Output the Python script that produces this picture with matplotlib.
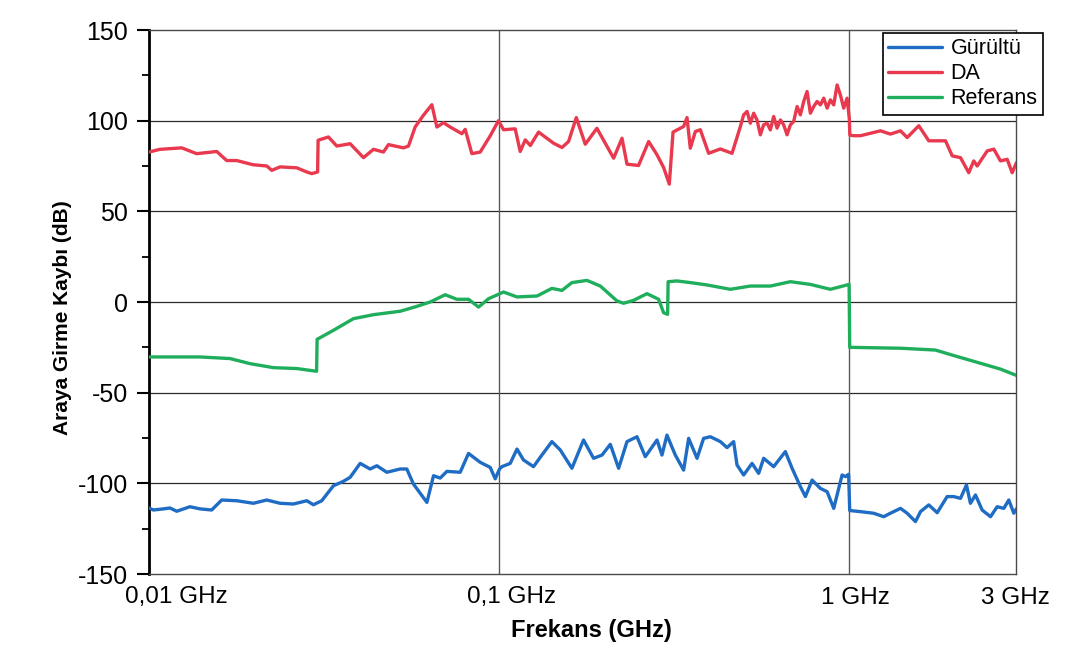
import matplotlib
matplotlib.use("Agg")
import matplotlib.pyplot as plt
import matplotlib.transforms as mtransforms
from matplotlib import font_manager
from matplotlib.ticker import FixedLocator, MultipleLocator
import numpy as np

# ---- data: frequency (GHz) and insertion loss (dB) ----
freq_da = [0.0100, 0.01075, 0.0124, 0.01368, 0.01561, 0.01667, 0.01781, 0.01982, 0.02169, 0.02242,
           0.02367, 0.02642, 0.02822, 0.02916, 0.0303, 0.0304, 0.03253, 0.03438, 0.03752, 0.04097,
           0.04375, 0.04672, 0.04828, 0.05328, 0.05507, 0.05754, 0.06077, 0.06423, 0.06637, 0.06933,
           0.07244, 0.07823, 0.07996, 0.08356, 0.08825, 0.09425, 0.09954, 0.1029, 0.1111, 0.1148,
           0.1187, 0.1227, 0.1295, 0.1429, 0.1511, 0.1578, 0.1660, 0.1761, 0.1901, 0.2122,
           0.2242, 0.2317, 0.2500, 0.2671, 0.2822, 0.2947, 0.3060, 0.3136, 0.3362, 0.3438,
           0.3513, 0.3631, 0.3752, 0.3963, 0.4280, 0.4623, 0.4883, 0.4989, 0.5103, 0.5213,
           0.5329, 0.5447, 0.5568, 0.569, 0.582, 0.5947, 0.6077, 0.6215, 0.6353, 0.649,
           0.6637, 0.6783, 0.6933, 0.709, 0.7244, 0.7405, 0.757, 0.7737, 0.7907, 0.8085,
           0.8263, 0.8446, 0.8637, 0.8825, 0.902, 0.9223, 0.9425, 0.963, 0.9849, 0.999,
           1.003, 1.029, 1.075, 1.227, 1.309, 1.399, 1.462, 1.578, 1.685, 1.781,
           1.881, 1.966, 2.076, 2.192, 2.265, 2.317, 2.474, 2.584, 2.700, 2.822,
           2.916, 3.0]
da_db = [82.7, 84.2, 85, 81.8, 83, 78, 78, 75.7, 75, 72.6,
         74.5, 74, 71.7, 70.8, 71.7, 89.2, 91, 86, 87.3, 79.6,
         84.2, 82.7, 86.8, 85, 86, 96.5, 103, 108.8, 96.5, 98.9,
         96.5, 92.8, 95.2, 81.8, 82.7, 91.6, 100, 95, 95.5, 83,
         89.4, 86.3, 93.7, 87.6, 85.2, 88.5, 101.7, 87, 95.8, 79.3,
         90.3, 76, 75.3, 88.5, 81.2, 74.2, 65, 93.7, 96.8, 101.7,
         84.8, 94, 95, 82, 84.4, 82, 96.8, 103.2, 105.1, 98.6,
         104.1, 100.4, 92.2, 97.7, 98.6, 94.9, 102.3, 95.9, 100.4, 97.7,
         92.2, 97.7, 99.6, 107.8, 103.2, 110.6, 116.1, 104.1, 107.8, 110.6,
         108.7, 112.4, 106.9, 111.5, 108.7, 119.7, 114.2, 106.9, 112.4, 101.4,
         92, 91.7, 91.7, 94.4, 92.6, 94.4, 90.7, 97.2, 88.9, 88.9,
         88.9, 80.6, 79.6, 71.3, 77.8, 75, 83.3, 84.3, 77.8, 78.7,
         71.3, 76.9]

freq_ref = [0.0100, 0.01173, 0.01399, 0.01704, 0.01944, 0.02265, 0.02642, 0.0301, 0.0302, 0.03363,
            0.03834, 0.04375, 0.05213, 0.0582, 0.06353, 0.0701, 0.0757, 0.08172, 0.0873, 0.0932,
            0.1029, 0.1124, 0.1282, 0.1414, 0.1511, 0.1613, 0.1781, 0.1944, 0.2169, 0.2265,
            0.2419, 0.2642, 0.2852, 0.2947, 0.3026, 0.3036, 0.3219, 0.3513, 0.3921, 0.4571,
            0.5213, 0.5947, 0.6783, 0.7737, 0.8825, 0.998, 1.002, 1.399, 1.761, 1.944,
            2.291, 2.700, 3.0]
ref_db = [-30.3, -30.3, -30.3, -31.2, -34, -36.2, -36.7, -38.2, -20.6, -15.6,
          -9.2, -7, -5.1, -2.4, 0, 4, 1.5, 1.5, -2.8, 1.8,
          5.5, 2.8, 3.3, 7.5, 6.4, 10.7, 11.9, 8.8, 0.6, -0.7,
          0.9, 4.6, 1.5, -5.9, -6.8, 11.2, 11.6, 10.7, 9.4, 7,
          8.8, 8.8, 11.2, 9.7, 7, 9.7, -25, -25.5, -26.5, -29,
          -33, -37, -40.5]

freq_noise = [0.0100, 0.01029, 0.01099, 0.01148, 0.0120, 0.01309, 0.01399, 0.0151, 0.01613, 0.01781,
              0.01986, 0.02169, 0.02367, 0.02584, 0.02822, 0.02947, 0.03114, 0.03363, 0.0359, 0.03752,
              0.04008, 0.0428, 0.04473, 0.04776, 0.05213, 0.05447, 0.0569, 0.06216, 0.06493, 0.06785,
              0.07088, 0.07737, 0.08172, 0.08825, 0.09425, 0.09741, 0.1002, 0.1018, 0.1075, 0.1124,
              0.1173, 0.1253, 0.1324, 0.1414, 0.1494, 0.1613, 0.1741, 0.186, 0.1966, 0.2076,
              0.2193, 0.2317, 0.2474, 0.2613, 0.2822, 0.2916, 0.3013, 0.3183, 0.3362, 0.3475,
              0.3672, 0.3834, 0.4008, 0.428, 0.4473, 0.4671, 0.4776, 0.4989, 0.5272, 0.5507,
              0.569, 0.6077, 0.6563, 0.686, 0.7244, 0.7487, 0.7824, 0.8263, 0.8637, 0.902,
              0.953, 0.975, 0.995, 1.002, 1.075, 1.173, 1.253, 1.309, 1.399, 1.462,
              1.544, 1.596, 1.685, 1.781, 1.901, 1.986, 2.076, 2.159, 2.216, 2.291,
              2.393, 2.529, 2.642, 2.760, 2.852, 2.947, 3.0]
noise_db = [-113.6, -114.7, -114.1, -113.6, -115.4, -112.9, -114.1, -114.7, -109.2, -109.6,
            -111, -109.2, -111, -111.4, -109.6, -111.8, -109.6, -101.3, -98.9, -96.7,
            -89, -92.1, -90.3, -93.9, -92.1, -92.1, -100.4, -110.5, -95.8, -97.1,
            -93.4, -93.9, -83.5, -88.4, -91.2, -97.5, -92.1, -90.8, -89, -81.1,
            -87.1, -90.8, -84.4, -77, -81.6, -91.7, -76.1, -86.2, -84.4, -78.5,
            -91.7, -77, -74.3, -85.3, -76.1, -84.4, -73.4, -84.4, -92.7, -75.2,
            -86.2, -75.2, -74.3, -77, -80.3, -77, -89.9, -95.4, -89, -94.5,
            -86.2, -90.8, -82.5, -91.7, -101.8, -107.3, -98.2, -102.8, -104.6, -113.8,
            -95.4, -96.3, -95, -115, -115.6, -116.5, -118.4, -116.5, -113.8, -116.5,
            -121.1, -115.6, -111.9, -116.2, -107.3, -107.3, -108.3, -100.9, -111, -106.4,
            -114.7, -118.4, -112.9, -113.8, -109.2, -116.5, -114]

series_names = ["Gürültü", "DA", "Referans"]
series_colors = ["#1f6cc4", "#e8394f", "#1fae5c"]

x_ticks = [0.01, 0.1, 1, 3]
x_tick_labels = ["0,01 GHz", "0,1 GHz", "1 GHz", "3 GHz"]
y_ticks = [-150, -100, -50, 0, 50, 100, 150]

# ---- fonts ----
available = {f.name for f in font_manager.fontManager.ttflist}
base_font = "Liberation Sans" if "Liberation Sans" in available else "DejaVu Sans"
if "Liberation Sans Narrow" in available:
    ylabel_font, ylabel_size = "Liberation Sans Narrow", 17
else:
    ylabel_font, ylabel_size = base_font, 15
plt.rcParams["font.family"] = [base_font, "DejaVu Sans"]
plt.rcParams["axes.unicode_minus"] = False

W, H = 1076, 650
fig = plt.figure(figsize=(W / 100, H / 100), dpi=100)
ax_left, ax_right, ax_top, ax_bottom = 149, 1016.5, 30, 574
ax = fig.add_axes([ax_left / W, 1 - ax_bottom / H, (ax_right - ax_left) / W, (ax_bottom - ax_top) / H])

# ---- series ----
series = [(freq_noise, noise_db), (freq_da, da_db), (freq_ref, ref_db)]
for (fx, fy), name, color in zip(series, series_names, series_colors):
    ax.plot(np.asarray(fx), np.asarray(fy), color=color, lw=2.4, label=name,
            solid_joinstyle="round", solid_capstyle="round", zorder=3)

ax.set_xscale("log")
ax.set_xlim(0.01, 3)
ax.set_ylim(-150, 150)

# ---- grid ----
for v in [-100, -50, 0, 50, 100]:
    ax.axhline(v, color="#2a2a2a", lw=0.9, zorder=1)
for v in [0.1, 1]:
    ax.axvline(v, color="#5a5a5a", lw=1.0, zorder=1)

# ---- spines ----
ax.spines["left"].set_linewidth(2.0)
ax.spines["left"].set_color("black")
for s in ["top", "bottom", "right"]:
    ax.spines[s].set_linewidth(1.0)
    ax.spines[s].set_color("#4a4a4a")

# ---- ticks ----
ax.yaxis.set_major_locator(FixedLocator(y_ticks))
ax.yaxis.set_minor_locator(MultipleLocator(25))
ax.tick_params(axis="y", which="major", direction="out", length=8.5, width=1.5,
               pad=6.5, labelsize=18, colors="black")
ax.tick_params(axis="y", which="minor", direction="out", length=5, width=1.3)

ax.xaxis.set_major_locator(FixedLocator(x_ticks))
ax.xaxis.set_minor_locator(FixedLocator([]))
ax.set_xticklabels(x_tick_labels)
ax.tick_params(axis="x", which="major", length=0, pad=9, labelsize=17.5)
x_label_shift_px = [27, 12, 6, -1]
for lab, dx in zip(ax.get_xticklabels(), x_label_shift_px):
    lab.set_transform(lab.get_transform() +
                      mtransforms.ScaledTranslation(dx / 100, 0, fig.dpi_scale_trans))

# ---- axis titles ----
ax.set_xlabel("Frekans (GHz)", fontsize=17, fontweight="bold", va="center")
ax.xaxis.set_label_coords((591 - ax_left) / (ax_right - ax_left),
                          -(631 - ax_bottom) / (ax_bottom - ax_top))
ax.set_ylabel("Araya Girme Kaybı (dB)", fontsize=ylabel_size, fontweight="bold",
              family=[ylabel_font, "DejaVu Sans"], va="center")
ax.yaxis.set_label_coords((62 - ax_left) / (ax_right - ax_left),
                          1 - (318 - ax_top) / (ax_bottom - ax_top))

# ---- legend ----
leg = ax.legend(loc="upper right", bbox_to_anchor=(1043 / W, 1 - 33 / H),
                bbox_transform=fig.transFigure, borderaxespad=0, fontsize=15.5,
                handlelength=2.5, handletextpad=0.4, labelspacing=0.18,
                borderpad=0.25, fancybox=False, framealpha=1, edgecolor="black")
leg.get_frame().set_linewidth(1.2)
leg.set_zorder(5)

fig.savefig("out.png", dpi=100, facecolor="white")
